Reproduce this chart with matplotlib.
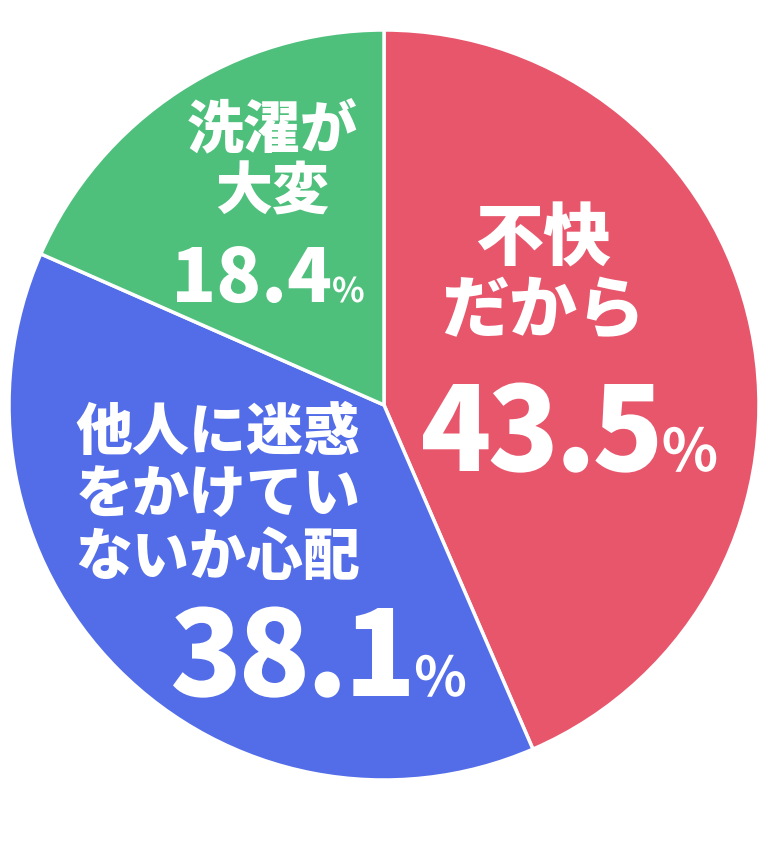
import matplotlib
matplotlib.use("Agg")
import matplotlib.pyplot as plt
from matplotlib.textpath import TextPath
from matplotlib.patches import PathPatch
from matplotlib.font_manager import FontProperties
from matplotlib.transforms import Affine2D

labels = ["不快\nだから", "他人に迷惑\nをかけてい\nないか心配", "洗濯が\n大変"]
values = [43.5, 38.1, 18.4]
colors = ["#E8566C", "#536DE8", "#4EC07C"]

plt.rcParams['font.family'] = ['Noto Sans CJK JP', 'DejaVu Sans']

W, H = 765, 841
fig = plt.figure(figsize=(W / 100, H / 100), dpi=100)
CX, CY, R = 384, 405, 375
ax = fig.add_axes([(CX - R) / W, (H - CY - R) / H, 2 * R / W, 2 * R / H])
ax.pie(values, colors=colors, startangle=90, counterclock=False, radius=1,
       wedgeprops=dict(edgecolor="white", linewidth=2.5))
ax.set_xlim(-1, 1)
ax.set_ylim(-1, 1)
ax.set_aspect("equal")
ax.axis("off")

# overlay axes in pixel units (y up)
ov = fig.add_axes([0, 0, 1, 1], zorder=5)
ov.set_xlim(0, W)
ov.set_ylim(0, H)
ov.axis("off")
ov.patch.set_alpha(0)

# label blocks (pixel centre), font sizes, line spacing
label_pos = [(543, 276), (218, 496), (272, 162)]
label_size = [49, 41, 41]
label_ls = [1.04, 1.12, 1.12]
for i in range(len(values)):
    ov.text(label_pos[i][0], H - label_pos[i][1], labels[i], ha="center",
            va="center", color="white", fontsize=label_size[i],
            fontweight="black", linespacing=label_ls[i])

# numbers: ink-left x, baseline y, digit height (pixels), tracking (em)
num_left = [423, 173, 177]
num_base = [471, 696, 302]
num_h = [87, 88, 55]
num_track = [0.032, 0.032, 0.0]
pct_h = [45, 42, 26]

fp_num = FontProperties(family="Noto Sans CJK JP", weight="black")
fp_pct = FontProperties(family="Noto Sans CJK JP", weight="bold")

ref4 = TextPath((0, 0), "4", size=100, prop=fp_num).get_extents()
DIGIT_H = ref4.y1  # digit height in em/100 units
refp = TextPath((0, 0), "%", size=100, prop=fp_pct).get_extents()
PCT_H = refp.y1 - refp.y0


def advance(ch, prop):
    a = TextPath((0, 0), ch, size=100, prop=prop).get_extents()
    b = TextPath((0, 0), ch + ch, size=100, prop=prop).get_extents()
    return b.x1 - a.x1


def draw_ink(ch, prop, scale, origin_x, base):
    p = TextPath((0, 0), ch, size=100, prop=prop)
    tr = Affine2D().scale(scale).translate(origin_x, base)
    ov.add_patch(PathPatch(tr.transform_path(p), facecolor="white",
                           edgecolor="none", lw=0))
    return p.get_extents()


for i, v in enumerate(values):
    s = f"{v:.1f}"
    sc = num_h[i] / DIGIT_H
    base = H - num_base[i]
    first = TextPath((0, 0), s[0], size=100, prop=fp_num).get_extents()
    x = num_left[i] - first.x0 * sc
    for j, ch in enumerate(s):
        draw_ink(ch, fp_num, sc, x, base)
        tr = num_track[i] if j < len(s) - 1 else num_track[i] * 0.5
        x += (advance(ch, fp_num) - tr * 100) * sc
    scp = pct_h[i] / PCT_H
    draw_ink("%", fp_pct, scp, x, base)

fig.savefig("out.png", dpi=100)
